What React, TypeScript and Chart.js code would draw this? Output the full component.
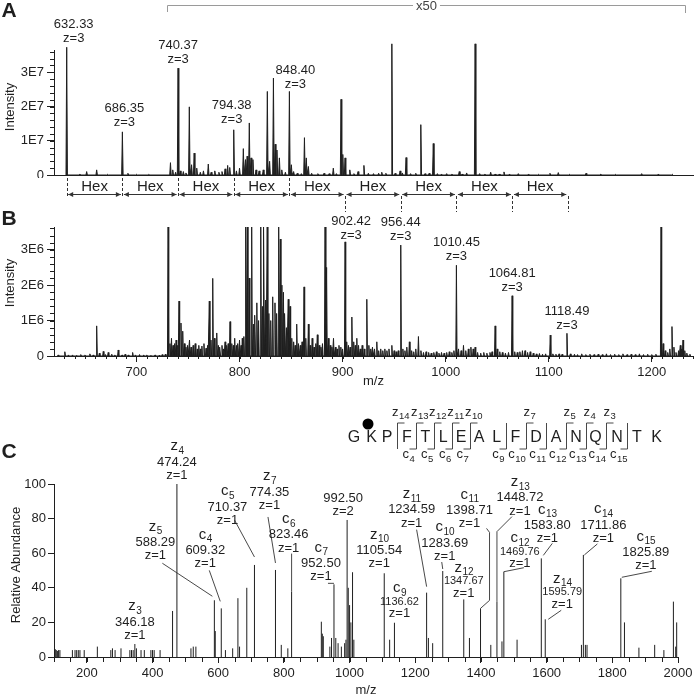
import React, { useEffect, useRef } from 'react';
import { Chart, registerables } from 'chart.js';

Chart.register(...registerables);

const FONT = '"Liberation Sans", Arial, Helvetica, sans-serif';
const INK = '#1f1f1f';
const GREY = '#9a9a9a';

// ---------------- Panel A : intensity in units of 1E7 (right part shown x50) ----------------
const A_PEAKS: number[][] = [
  [632.33, 3.73], [645, 0.03], [651.7, 0.1], [661.4, 0.15], [672, 0.02], [686.35, 1.26], [691.7, 0.05], [700, 0.02], [712, 0.02],
  [733, 0.36], [735.2, 0.15], [738, 0.08], [740.37, 3.12], [742.5, 0.12], [745.5, 0.1], [748, 0.06], [751.3, 1.99], [753.5, 0.3],
  [756, 0.64], [758.5, 0.2], [762, 0.08], [765, 0.12], [769.7, 0.32], [772.5, 0.08], [776, 0.12], [780, 0.08], [783, 0.1],
  [786, 0.18], [788.5, 0.28], [790.5, 0.22], [794.38, 1.32], [797, 0.12], [800, 0.2], [803.7, 0.77], [805.8, 0.45], [807.4, 0.55],
  [809.5, 1.52], [811.2, 0.5], [813, 0.45], [816, 0.15], [819, 0.12], [823, 0.15], [827, 2.44], [829.2, 0.4], [832.9, 2.83],
  [834.6, 0.9], [836.3, 0.73], [838.7, 0.5], [841, 0.15], [844.5, 0.08], [848.4, 2.44], [850.3, 0.3], [852.5, 0.1], [856, 0.05],
  [860, 0.04], [863, 1.09], [864.8, 0.5], [866.8, 0.25], [870, 0.05], [876, 0.04], [882, 0.05], [887, 0.04], [891, 0.2],
  [894, 0.04], [898.5, 2.21], [900.2, 0.6], [902.4, 0.5], [907, 0.15], [911, 0.04], [915, 0.1], [920.7, 0.28], [925, 0.05],
  [930, 0.04], [935, 0.05], [938, 0.08], [942, 0.05], [947.8, 3.83], [951, 0.05], [955.8, 0.12], [958, 0.06], [961.6, 0.51],
  [966, 0.04], [971, 0.05], [975.9, 1.47], [980, 0.04], [984, 0.05], [988, 0.92], [992, 0.04], [996, 0.03], [1001, 0.04],
  [1006, 0.03], [1013.2, 0.1], [1016, 0.03], [1020.4, 0.06], [1028.6, 3.83], [1033, 0.04], [1038, 0.03], [1043.7, 0.08],
  [1048, 0.03], [1052, 0.03], [1056.6, 0.09], [1062, 0.03], [1070.5, 0.04], [1080, 0.02], [1090, 0.02], [1101.2, 0.05],
  [1109.3, 0.07], [1120, 0.02], [1136.2, 0.05], [1150, 0.02], [1165, 0.02], [1190.2, 0.04], [1206.4, 0.03], [1220, 0.02],
];
const A_LABEL_MZ = [632.33, 686.35, 740.37, 794.38, 848.4];
const A_CHARGE = 'z=3';
const A_Y_MAX = 3.65;
const A_Y_TICK_UNIT = 'E7';
const X50_RANGE = [729.6, 1232.5];
const X50_TEXT = 'x50';
const HEX_MZ = [632.33, 686.35, 740.37, 794.38, 848.4, 902.42, 956.44, 1010.45, 1064.81, 1118.49];
const HEX_TEXT = 'Hex';

// ---------------- Panel B : intensity in units of 1E6 ----------------
const B_PEAKS: number[][] = [
  [624, 0.03], [630.5, 0.12], [634, 0.03], [638, 0.03], [642, 0.02], [646, 0.04], [650, 0.03], [654.8, 0.06], [658, 0.03],
  [661.4, 0.85], [664, 0.08], [667.8, 0.13], [670, 0.04], [672.6, 0.1], [676, 0.05], [679, 0.03], [682.3, 0.17], [686, 0.03],
  [689, 0.05], [692, 0.03], [696.3, 0.1], [699, 0.03], [703, 0.04], [707, 0.03], [710, 0.03], [714, 0.02], [718, 0.03],
  [722, 0.02], [725, 0.04], [728, 0.05],
  [730.7, 3.8], [732.5, 0.35], [734, 0.5], [735.5, 0.3], [737, 0.35], [738.5, 0.45], [740, 0.3], [741.3, 1.55], [743.2, 0.93],
  [744.9, 0.7], [746.5, 0.35], [748, 0.25], [749.5, 0.3], [751.5, 0.45], [753, 0.25], [755, 0.3], [757, 0.35], [759, 0.2],
  [760.5, 0.3], [762, 0.2], [763.5, 0.28], [765.5, 0.35], [767.5, 0.22], [769, 0.3], [770.7, 1.55], [772.3, 0.45], [774, 2.19],
  [775.6, 0.5], [777.9, 0.65], [779.5, 0.3], [781, 0.25], [783, 0.3], [784.5, 0.2], [786, 0.4], [787.5, 0.3], [789, 0.35],
  [790.8, 0.97], [792.5, 0.35], [794, 0.3], [795.3, 0.5], [797, 0.3], [798.5, 0.35], [800, 0.45], [801.5, 0.3], [802.7, 0.5],
  [804.2, 0.55], [806, 3.8], [807.6, 3.8], [809.4, 2.2], [811.8, 3.8], [813.5, 0.9], [815, 1.15], [816.8, 1.5], [818.5, 1.0],
  [820.6, 3.8], [822.2, 1.4], [823.6, 3.8], [825.3, 1.58], [826.9, 3.8], [828.5, 1.2], [830.3, 1.0], [832.2, 1.67], [834.4, 1.5],
  [836, 1.2], [838, 3.8], [839.6, 3.3], [841.1, 2.0], [842.6, 1.8], [844, 1.2], [845.5, 0.8], [847.3, 1.6], [849, 1.4],
  [850.7, 0.5], [852.5, 0.4], [854, 0.3], [855.5, 0.9], [857.2, 0.35], [859, 0.3], [860.7, 0.4], [862.6, 1.95], [864.3, 0.5],
  [866.8, 0.9], [868.5, 0.3], [870.5, 0.5], [872.3, 0.25], [874, 0.35], [875.5, 0.6], [877.3, 0.3], [879, 0.25], [880.5, 0.35],
  [883, 3.8], [884.5, 2.5], [886.2, 0.5], [888, 0.3], [889.6, 0.25], [891.2, 0.5], [893, 0.25], [894.7, 0.2], [896.5, 0.3],
  [898.3, 0.25], [900, 0.2], [902.42, 3.22], [904, 0.4], [905.7, 0.3], [907.3, 0.25], [909, 1.1], [910.8, 0.4], [912.3, 0.3],
  [913.8, 0.5], [915.5, 0.3], [917.2, 0.2], [919, 0.3], [921, 0.2], [923.5, 1.6], [925.5, 0.3], [927.3, 0.2], [929, 0.25],
  [931, 0.2], [933.2, 0.4], [935, 0.15], [937, 0.2], [939, 0.15], [941, 0.2], [943, 0.15], [945, 0.2], [947.8, 0.3], [950, 0.15],
  [952, 0.12], [954, 0.15], [956.44, 3.13], [958.5, 0.2], [960.5, 0.15], [962.3, 0.25], [964.8, 0.4], [967, 0.15], [969, 0.12],
  [971, 0.2], [973.6, 0.55], [976, 0.15], [978.5, 0.1], [981, 0.12], [983.5, 0.1], [986, 0.08], [988.5, 0.1], [991, 0.12],
  [993.5, 0.08], [996, 0.1], [998.5, 0.08], [1001, 0.1], [1003.5, 0.12], [1006, 0.1], [1008, 0.15], [1010.45, 2.56],
  [1012.5, 0.2], [1015, 0.15], [1017.3, 0.3], [1019.5, 0.15], [1022, 0.2], [1024.5, 0.25], [1026.7, 0.2], [1028.6, 0.25],
  [1031, 0.1], [1034, 0.08], [1037, 0.1], [1040, 0.08], [1043, 0.1], [1045, 0.12], [1048, 0.85], [1050, 0.2], [1052.5, 0.12],
  [1055, 0.1], [1058, 0.08], [1061, 0.1], [1064.5, 1.7], [1067, 0.12], [1069.5, 0.1], [1072, 0.12], [1074.5, 0.15], [1077, 0.15],
  [1079.5, 0.1], [1082, 0.12], [1085, 0.08], [1088, 0.06], [1091, 0.07], [1094, 0.05], [1097, 0.06], [1101.5, 0.59], [1104, 0.06],
  [1107, 0.05], [1110, 0.06], [1113, 0.05], [1117.7, 0.64], [1121, 0.06], [1125, 0.05], [1128, 0.04], [1132, 0.06], [1136, 0.04],
  [1140, 0.05], [1144, 0.04], [1148, 0.05], [1152, 0.04], [1156, 0.06], [1160, 0.04], [1164, 0.05], [1168, 0.04], [1172, 0.06],
  [1176, 0.04], [1180, 0.05], [1184, 0.04], [1188, 0.06], [1192, 0.04], [1196, 0.05], [1200, 0.04], [1204, 0.05], [1209, 3.7],
  [1211, 0.35], [1213, 0.15], [1215.5, 0.1], [1217.5, 0.2], [1219.6, 0.83], [1221.5, 0.25], [1223.5, 0.1], [1226, 0.15],
  [1227.7, 0.3], [1229, 0.2], [1230.3, 0.45], [1232, 0.15], [1234, 0.08], [1237, 0.05],
];
const B_LABEL_MZ = [902.42, 956.44, 1010.45, 1064.81, 1118.49];
const B_CHARGE = 'z=3';
const B_Y_MAX = 3.64;
const B_Y_TICK_UNIT = 'E6';

// shared m/z axis of A and B
const AB_MZ_MIN = 620;
const AB_MZ_MAX = 1240;
const AB_MAJOR = 100;
const AB_MINOR = 10;
const AB_Y_MINOR = 0.2;

// ---------------- Panel C : relative abundance ----------------
const C_PEAKS: number[][] = [
  [104, 4.5], [107, 4], [111, 3.5], [114, 4], [118, 4], [156, 4], [164, 4], [169, 4], [174, 4], [179, 4], [192, 4], [232, 6],
  [273, 4], [278, 5], [286, 4], [304, 5], [331, 4], [336, 4], [341, 4], [346.18, 7.5], [351, 5], [365, 4], [375, 4], [395, 4],
  [400, 4], [405, 4], [423, 4], [461, 26.6], [474.24, 100], [517, 5], [524, 6], [532, 6], [588.29, 32.8], [591, 15],
  [609.32, 28.1], [622, 4], [644, 5], [660, 34], [665, 6], [687, 40], [710.37, 53.2], [774.35, 50.3], [792, 7], [812, 5],
  [823.46, 37.8], [914, 20.4], [917, 13.5], [920, 12], [940, 6], [945, 11], [952.5, 42], [958, 11], [965, 8], [975, 6],
  [985, 8], [989, 10], [992.5, 79.2], [996, 40], [1000, 30], [1004, 20], [1009, 49], [1013, 10], [1105.54, 48.4], [1122, 10],
  [1136.62, 19.8], [1234.59, 37.2], [1240, 11], [1253, 8], [1283.69, 49.7], [1347.67, 33.3], [1365, 11], [1398.71, 28.1],
  [1430, 7], [1448.72, 32], [1464, 9], [1469.76, 49.3], [1510, 10], [1583.8, 57], [1595.79, 21.8], [1706, 7], [1711.86, 59],
  [1718, 7], [1723, 7], [1825.89, 45.5], [1837, 20], [1881, 5.4], [1929, 7], [1957, 4], [1986, 32], [1993, 6], [1996, 20],
];
const C_LABEL_MZ = [346.18, 474.24, 588.29, 609.32, 710.37, 774.35, 823.46, 952.5, 992.5, 1105.54, 1136.62, 1234.59,
  1283.69, 1347.67, 1398.71, 1448.72, 1469.76, 1583.8, 1595.79, 1711.86, 1825.89];
const C_LABEL_ION = ['z3', 'z4', 'z5', 'c4', 'c5', 'z7', 'c6', 'c7', '', 'z10', 'c9', 'z11',
  'c10', 'z12', 'c11', 'z13', 'c12', 'c13', 'z14', 'c14', 'c15'];
const C_LABEL_CHARGE = ['z=1', 'z=1', 'z=1', 'z=1', 'z=1', 'z=1', 'z=1', 'z=1', 'z=2', 'z=1', 'z=1', 'z=1',
  'z=1', 'z=1', 'z=1', 'z=1', 'z=1', 'z=1', 'z=1', 'z=1', 'z=1'];
const C_MZ_MIN = 100;
const C_MZ_MAX = 2000;
const C_MAJOR = 200;
const C_MINOR = 50;
const C_Y_MAX = 100;
const C_Y_STEP = 20;

const SEQUENCE = ['G', 'K', 'P', 'F', 'T', 'L', 'E', 'A', 'L', 'F', 'D', 'A', 'N', 'Q', 'N', 'T', 'K'];
const Z_IONS = [14, 13, 12, 11, 10, 7, 5, 4, 3];
const C_IONS = [4, 5, 6, 7, 9, 10, 11, 12, 13, 14, 15];
const MODIFIED_RESIDUE = 1;

// ---------------- layout (pixels) ----------------
const A_LABEL_LAYOUT = [[7, -23], [2, -23], [0, -23], [-2, -24], [6, -21]];
const B_LABEL_LAYOUT = [[6, -20], [0, -23], [0, -23], [0, -22], [0, -22]];
type Lay = { dx: number; dy: number; small?: boolean; leader?: number[][] };
const C_LABEL_LAYOUT: Lay[] = [
  { dx: 0, dy: -22 },
  { dx: 0, dy: -22 },
  { dx: -59, dy: -58, leader: [[-52, -37], [-2, -4]] },
  { dx: -16, dy: -58, leader: [[-12, -38], [-1, -7]] },
  { dx: -27, dy: -58, leader: [[-20, -45], [0, -8]] },
  { dx: -6, dy: -78, leader: [[-7.5, -53], [0, -7]] },
  { dx: -3, dy: -57, leader: [[0, -38], [0, 0]] },
  { dx: -13, dy: -21, leader: [[-6, -1], [0, -1]] },
  { dx: -4, dy: -22 },
  { dx: -5, dy: -23 },
  { dx: 5, dy: -21, small: true },
  { dx: -15, dy: -83, leader: [[-10, -63], [0, -6]] },
  { dx: 2, dy: -28, leader: [[-1, -9], [0, -2]] },
  { dx: 0, dy: -18, small: true },
  { dx: -11, dy: -98, leader: [[6, -80], [9, -76], [9, -8], [0, 0]] },
  { dx: 23, dy: -104, leader: [[15, -85], [0, -70], [0, 0]] },
  { dx: 16, dy: -20, small: true, leader: [[20, -4], [0, 0]] },
  { dx: 6, dy: -33, leader: [[11, -15], [2, -3]] },
  { dx: 17, dy: -27, small: true, leader: [[16, -9], [3, 0]] },
  { dx: 20, dy: -30, leader: [[14, -11], [1, 0]] },
  { dx: 25, dy: -26, leader: [[31, -7], [1, -1]] },
];
const SEQ_X = [354, 371.5, 387, 407, 425.5, 443.3, 461, 479, 496.7, 515.3, 536, 556, 576, 595.5, 617, 637, 656.7];
const DOT_POS = [368, 32];

// ---------------- helpers ----------------
function profileData(peaks: number[][], hw: number) {
  const s = [...peaks].sort((a, b) => a[0] - b[0]);
  const pts: any[] = [];
  for (const [m, h] of s) pts.push({ x: m - hw, y: 0 }, { x: m, y: h }, { x: m + hw, y: 0 });
  return pts;
}
function stickData(peaks: number[][]) {
  const s = [...peaks].sort((a, b) => a[0] - b[0]);
  const pts: any[] = [];
  for (const [m, h] of s) pts.push({ x: m, y: 0 }, { x: m, y: h }, { x: m, y: null });
  return pts;
}
function nearestPeak(peaks: number[][], mz: number) {
  let best = peaks[0];
  for (const p of peaks) if (Math.abs(p[0] - mz) < Math.abs(best[0] - mz)) best = p;
  return best;
}
function txt(ctx: CanvasRenderingContext2D, s: string, x: number, y: number, size: number, o: any = {}) {
  ctx.font = `${o.bold ? 'bold ' : ''}${size}px ${FONT}`;
  ctx.fillStyle = o.color || INK;
  ctx.textAlign = o.align || 'center';
  ctx.textBaseline = o.baseline || 'middle';
  ctx.fillText(s, x, y);
}
function ionTxt(ctx: CanvasRenderingContext2D, ion: string, cx: number, cy: number, size: number, sub: number) {
  const L = ion[0], S = ion.slice(1);
  ctx.font = `${size}px ${FONT}`;
  const w1 = ctx.measureText(L).width;
  ctx.font = `${sub}px ${FONT}`;
  const w2 = ctx.measureText(S).width;
  const x0 = cx - (w1 + w2) / 2;
  const base = cy + size * 0.26;
  ctx.fillStyle = INK;
  ctx.textAlign = 'left';
  ctx.textBaseline = 'alphabetic';
  ctx.font = `${size}px ${FONT}`;
  ctx.fillText(L, x0, base);
  ctx.font = `${sub}px ${FONT}`;
  ctx.fillText(S, x0 + w1 + 0.5, base + 3.5);
}
function vTitle(ctx: CanvasRenderingContext2D, s: string, x: number, y: number) {
  ctx.save();
  ctx.translate(x, y);
  ctx.rotate(-Math.PI / 2);
  txt(ctx, s, 0, 0, 13);
  ctx.restore();
}
function line(ctx: CanvasRenderingContext2D, pts: number[][], color = INK, w = 1, dash: number[] = []) {
  ctx.save();
  ctx.strokeStyle = color;
  ctx.lineWidth = w;
  ctx.setLineDash(dash);
  ctx.beginPath();
  pts.forEach(([x, y], i) => (i ? ctx.lineTo(x, y) : ctx.moveTo(x, y)));
  ctx.stroke();
  ctx.restore();
}
function minorY(ctx: CanvasRenderingContext2D, ca: any, y: any, step: number, len: number) {
  for (let i = 1; ; i++) {
    const v = i * step;
    if (v > y.max + 1e-9) break;
    const py = Math.round(y.getPixelForValue(v)) + 0.5;
    line(ctx, [[ca.left - len, py], [ca.left, py]]);
  }
}
function minorX(ctx: CanvasRenderingContext2D, ca: any, x: any, from: number, step: number, len: number) {
  for (let i = 0; ; i++) {
    const v = from + i * step;
    if (v > x.max + 1e-9) break;
    const px = Math.round(x.getPixelForValue(v)) + 0.5;
    line(ctx, [[px, ca.bottom], [px, ca.bottom + len]]);
  }
}

function yAxis(max: number, step: number, len: number, pad: number, cb: any, width: number) {
  return {
    type: 'linear', min: 0, max,
    grid: { display: true, drawOnChartArea: false, drawTicks: true, tickLength: len, color: INK, lineWidth: 1 },
    border: { display: true, color: INK, width: 1 },
    ticks: { stepSize: step, includeBounds: false, padding: pad, color: INK, font: { size: 13, family: FONT }, callback: cb },
    afterFit: (s: any) => { s.width = width; s.paddingTop = 0; s.paddingBottom = 0; },
  };
}
function xAxis(min: number, max: number, step: number, height: number, showTicks: boolean) {
  return {
    type: 'linear', min, max,
    grid: { display: showTicks, drawOnChartArea: false, drawTicks: true, tickLength: 6, color: INK, lineWidth: 1 },
    border: { display: true, color: INK, width: 1 },
    ticks: {
      display: showTicks, stepSize: step, includeBounds: false, autoSkip: false, maxRotation: 0, padding: 2.5,
      color: INK, font: { size: 13, family: FONT }, callback: (v: number) => String(v),
    },
    afterFit: (s: any) => { s.height = height; s.paddingLeft = 0; s.paddingRight = 0; },
  };
}
function baseOptions(padding: any, scales: any) {
  return {
    responsive: false, animation: false, devicePixelRatio: 1, events: [],
    layout: { padding },
    plugins: { legend: { display: false }, tooltip: { enabled: false }, title: { display: false } },
    scales,
  };
}

// ---------------- plugins ----------------
const decoA = {
  id: 'decoA',
  afterDraw(chart: any) {
    const { ctx, chartArea: ca, scales: { x, y } } = chart;
    minorY(ctx, ca, y, AB_Y_MINOR, 4);
    A_LABEL_MZ.forEach((mz, i) => {
      const [pm, ph] = nearestPeak(A_PEAKS, mz);
      const px = x.getPixelForValue(pm), py = y.getPixelForValue(ph);
      const [dx, dy] = A_LABEL_LAYOUT[i];
      txt(ctx, mz.toFixed(2), px + dx, py + dy, 13);
      txt(ctx, A_CHARGE, px + dx, py + dy + 14, 13);
    });
    // x50 bracket
    const x0 = Math.round(x.getPixelForValue(X50_RANGE[0])) + 0.5;
    const x1 = Math.round(x.getPixelForValue(X50_RANGE[1])) + 0.5;
    const xm = (x0 + x1) / 2;
    ctx.font = `13px ${FONT}`;
    const tw = ctx.measureText(X50_TEXT).width;
    line(ctx, [[x0, 12], [x0, 5.5], [xm - tw / 2 - 3, 5.5]], GREY);
    line(ctx, [[xm + tw / 2 + 3, 5.5], [x1, 5.5], [x1, 13]], GREY);
    txt(ctx, X50_TEXT, xm, 6, 13, { color: '#444' });
    txt(ctx, 'A', 9, 11, 21, { bold: true });
    vTitle(ctx, 'Intensity', 10, 107);
  },
};

const decoB = {
  id: 'decoB',
  afterDraw(chart: any) {
    const { ctx, chartArea: ca, scales: { x, y } } = chart;
    minorY(ctx, ca, y, AB_Y_MINOR, 4);
    minorX(ctx, ca, x, AB_MZ_MIN + AB_MINOR, AB_MINOR, 3);
    B_LABEL_MZ.forEach((mz, i) => {
      const [pm, ph] = nearestPeak(B_PEAKS, mz);
      const px = x.getPixelForValue(pm), py = y.getPixelForValue(Math.min(ph, y.max));
      const [dx, dy] = B_LABEL_LAYOUT[i];
      txt(ctx, mz.toFixed(2), px + dx, py + dy, 13);
      txt(ctx, B_CHARGE, px + dx, py + dy + 14, 13);
    });
    // Hex ladder between panels A and B
    const yA = 16.5;
    HEX_MZ.forEach((mz) => {
      const px = Math.round(x.getPixelForValue(mz)) + 0.5;
      if (B_LABEL_MZ.includes(mz)) line(ctx, [[px, 18], [px, 34]], '#333', 1, [3, 2]);
      else line(ctx, [[px, 0], [px, 20]], '#333', 1, [3, 2]);
    });
    for (let i = 0; i < HEX_MZ.length - 1; i++) {
      const xa = x.getPixelForValue(HEX_MZ[i]) + 1.5, xb = x.getPixelForValue(HEX_MZ[i + 1]) - 1.5;
      line(ctx, [[xa, yA], [xb, yA]], '#333', 1);
      ctx.fillStyle = '#333';
      ctx.beginPath();
      ctx.moveTo(xa, yA); ctx.lineTo(xa + 5, yA - 2.5); ctx.lineTo(xa + 5, yA + 2.5); ctx.closePath(); ctx.fill();
      ctx.beginPath();
      ctx.moveTo(xb, yA); ctx.lineTo(xb - 5, yA - 2.5); ctx.lineTo(xb - 5, yA + 2.5); ctx.closePath(); ctx.fill();
      txt(ctx, HEX_TEXT, (xa + xb) / 2, 9, 15);
    }
    txt(ctx, 'B', 9, 41, 21, { bold: true });
    vTitle(ctx, 'Intensity', 10, 105);
    txt(ctx, 'm/z', (ca.left + ca.right) / 2, 203, 13);
  },
};

const decoC = {
  id: 'decoC',
  afterDraw(chart: any) {
    const { ctx, chartArea: ca, scales: { x, y } } = chart;
    minorX(ctx, ca, x, C_MZ_MIN, C_MINOR, 5);
    C_LABEL_MZ.forEach((mz, i) => {
      const [pm, ph] = nearestPeak(C_PEAKS, mz);
      const px = x.getPixelForValue(pm), py = y.getPixelForValue(ph);
      const L = C_LABEL_LAYOUT[i];
      const cx = px + L.dx, cy = py + L.dy;
      const nSize = L.small ? 11 : 13;
      if (C_LABEL_ION[i]) ionTxt(ctx, C_LABEL_ION[i], cx, cy - (L.small ? 13.5 : 15.5), 15, 10);
      txt(ctx, mz.toFixed(2), cx, cy, nSize);
      txt(ctx, C_LABEL_CHARGE[i], cx, cy + (L.small ? 12 : 13.5), 13);
      if (L.leader) line(ctx, L.leader.map(([ox, oy]) => [px + ox, py + oy]), '#333', 0.9);
    });
    // sequence with fragment map
    const letY = 45, topY = 31, botY = 57;
    SEQUENCE.forEach((r, i) => txt(ctx, r, SEQ_X[i], letY + 1, 16));
    ctx.fillStyle = '#000';
    ctx.beginPath();
    ctx.arc(DOT_POS[0], DOT_POS[1], 5.5, 0, Math.PI * 2);
    ctx.fill();
    const site = (i: number) => (SEQ_X[i - 1] + SEQ_X[i]) / 2;
    const sites = new Set<number>();
    Z_IONS.forEach((n) => sites.add(SEQUENCE.length - n));
    C_IONS.forEach((n) => sites.add(n));
    sites.forEach((i) => {
      const sx = Math.round(site(i)) + 0.5;
      line(ctx, [[sx, topY], [sx, botY]], '#333', 0.9);
    });
    Z_IONS.forEach((n) => {
      const i = SEQUENCE.length - n;
      const sx = Math.round(site(i)) + 0.5;
      line(ctx, [[sx, topY], [sx + 7, topY]], '#333', 0.9);
      ionTxt(ctx, 'z' + n, sx + 3, 20.5, 13, 9.5);
    });
    C_IONS.forEach((n) => {
      const sx = Math.round(site(n)) + 0.5;
      line(ctx, [[sx - 7, botY], [sx, botY]], '#333', 0.9);
      ionTxt(ctx, 'c' + n, SEQ_X[n - 1] + 1.5, 63, 13, 9.5);
    });
    txt(ctx, 'C', 9, 60, 21, { bold: true });
    vTitle(ctx, 'Relative Abundance', 16.5, 173);
    txt(ctx, 'm/z', (ca.left + ca.right) / 2, 298, 13);
  },
};

// ---------------- configs ----------------
function cfgA(): any {
  return {
    type: 'line',
    data: { datasets: [{ data: profileData(A_PEAKS, 0.7), borderColor: INK, backgroundColor: INK, borderWidth: 1, pointRadius: 0, fill: 'origin', tension: 0, clip: false }] },
    options: baseOptions({ top: 50, left: 0, right: 7, bottom: 0 }, {
      x: xAxis(AB_MZ_MIN, AB_MZ_MAX, AB_MAJOR, 3, false),
      y: yAxis(A_Y_MAX, 1, 7, 3, (v: number) => (v === 0 ? '0' : v + A_Y_TICK_UNIT), 54),
    }),
    plugins: [decoA],
  };
}
function cfgB(): any {
  return {
    type: 'line',
    data: { datasets: [{ data: profileData(B_PEAKS, 0.6), borderColor: INK, backgroundColor: INK, borderWidth: 1, pointRadius: 0, fill: 'origin', tension: 0 }] },
    options: baseOptions({ top: 49, left: 0, right: 7, bottom: 0 }, {
      x: xAxis(AB_MZ_MIN, AB_MZ_MAX, AB_MAJOR, 36, true),
      y: yAxis(B_Y_MAX, 1, 7, 3, (v: number) => (v === 0 ? '0' : v + B_Y_TICK_UNIT), 54),
    }),
    plugins: [decoB],
  };
}
function cfgC(): any {
  return {
    type: 'line',
    data: { datasets: [{ data: stickData(C_PEAKS), borderColor: INK, borderWidth: 1, pointRadius: 0, fill: false, tension: 0, spanGaps: false, clip: false }] },
    options: baseOptions({ top: 92, left: 0, right: 22, bottom: 0 }, {
      x: xAxis(C_MZ_MIN, C_MZ_MAX, C_MAJOR, 42, true),
      y: yAxis(C_Y_MAX, C_Y_STEP, 6, 2, (v: number) => String(v), 54),
    }),
    plugins: [decoC],
  };
}

export default function App() {
  const refA = useRef<HTMLCanvasElement>(null);
  const refB = useRef<HTMLCanvasElement>(null);
  const refC = useRef<HTMLCanvasElement>(null);
  useEffect(() => {
    Chart.defaults.font.family = FONT;
    Chart.defaults.color = INK;
    const a = new Chart(refA.current as HTMLCanvasElement, cfgA());
    const b = new Chart(refB.current as HTMLCanvasElement, cfgB());
    const c = new Chart(refC.current as HTMLCanvasElement, cfgC());
    return () => { a.destroy(); b.destroy(); c.destroy(); };
  }, []);
  const cs = (top: number, h: number): any => ({ position: 'absolute', left: 0, top, width: 700, height: h, display: 'block' });
  return (
    <div style={{ position: 'fixed', left: 0, top: 0, width: 700, height: 699, background: '#fff', overflow: 'hidden' }}>
      <canvas ref={refA} width={700} height={178} style={cs(0, 178)} />
      <canvas ref={refB} width={700} height={214} style={cs(178, 214)} />
      <canvas ref={refC} width={700} height={307} style={cs(392, 307)} />
    </div>
  );
}
